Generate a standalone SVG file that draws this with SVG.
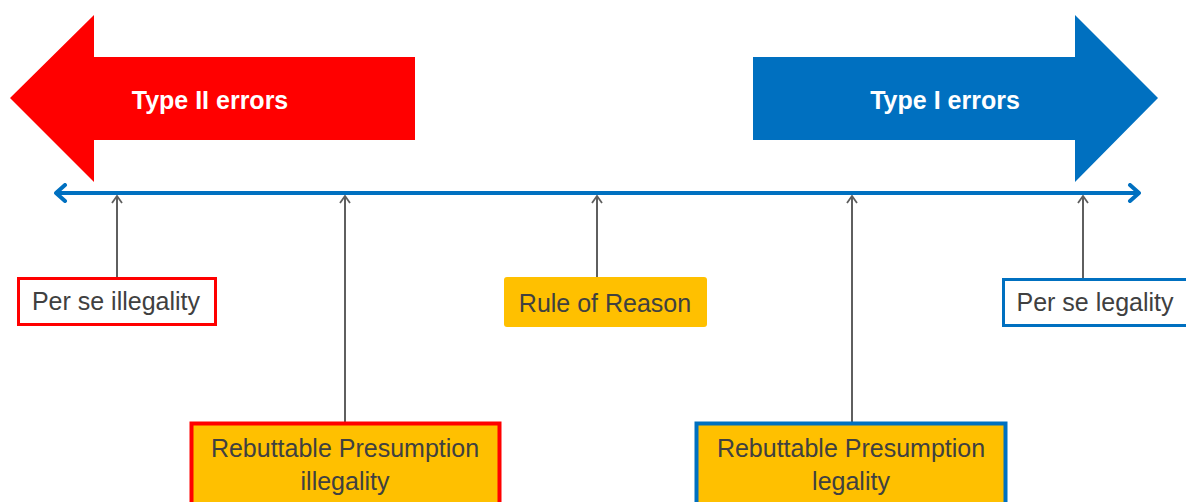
<svg xmlns="http://www.w3.org/2000/svg" width="1186" height="502" viewBox="0 0 1186 502">
<style>
.lbl{font-family:"Liberation Sans",Arial,sans-serif;font-size:25px;fill:#404040}
.big{font-family:"Liberation Sans",Arial,sans-serif;font-size:25px;font-weight:bold;fill:#ffffff}
.ptr{stroke:#5f5f5f;stroke-width:2;fill:none}
.gold{fill:#FFC000}
</style>
<defs>
<marker id="up" viewBox="0 0 12 12" refX="11" refY="6" markerWidth="12" markerHeight="12" markerUnits="userSpaceOnUse" orient="auto">
<path d="M4,1 L11,6 L4,11" fill="none" stroke="#5f5f5f" stroke-width="1.8"/>
</marker>
<marker id="tl" viewBox="0 0 20 20" refX="18" refY="10" markerWidth="20" markerHeight="20" markerUnits="userSpaceOnUse" orient="auto-start-reverse">
<path d="M9,2 L18,10 L9,18" fill="none" stroke="#0070C0" stroke-width="4" stroke-linecap="round" stroke-linejoin="round"/>
</marker>
</defs>
<g id="type2">
<polygon points="10,98 94,15 94,57 415,57 415,140 94,140 94,182" fill="#FF0000"/>
<text class="big" x="210" y="109" text-anchor="middle">Type II errors</text>
</g>
<g id="type1">
<polygon points="753,57 1075,57 1075,15 1158,98 1075,182 1075,140 753,140" fill="#0070C0"/>
<text class="big" x="945" y="109" text-anchor="middle">Type I errors</text>
</g>
<g id="connectors">
<line x1="56" y1="193" x2="1139" y2="193" stroke="#0070C0" stroke-width="4" marker-start="url(#tl)" marker-end="url(#tl)"/>
<line class="ptr" x1="117" y1="277" x2="117" y2="196" marker-end="url(#up)"/>
<line class="ptr" x1="345" y1="422" x2="345" y2="196" marker-end="url(#up)"/>
<line class="ptr" x1="597" y1="277" x2="597" y2="196" marker-end="url(#up)"/>
<line class="ptr" x1="852" y1="422" x2="852" y2="196" marker-end="url(#up)"/>
<line class="ptr" x1="1083" y1="278" x2="1083" y2="196" marker-end="url(#up)"/>
</g>
<g id="perse-illegality">
<rect x="18.5" y="278.5" width="197" height="46" fill="#ffffff" stroke="#FF0000" stroke-width="3"/>
<text class="lbl" x="116" y="310" text-anchor="middle">Per se illegality</text>
</g>
<g id="rule-of-reason">
<rect class="gold" x="504" y="277" width="203" height="50" rx="3"/>
<text class="lbl" x="605" y="312" text-anchor="middle">Rule of Reason</text>
</g>
<g id="perse-legality">
<rect x="1003.5" y="279.5" width="186" height="46" fill="#ffffff" stroke="#0070C0" stroke-width="3"/>
<text class="lbl" x="1095" y="311" text-anchor="middle">Per se legality</text>
</g>
<g id="rebuttable-illegality">
<rect class="gold" x="191.5" y="423.5" width="308" height="90" stroke="#FF0000" stroke-width="4"/>
<text class="lbl" x="345" y="457" text-anchor="middle">Rebuttable Presumption</text>
<text class="lbl" x="345" y="490" text-anchor="middle">illegality</text>
</g>
<g id="rebuttable-legality">
<rect class="gold" x="696.5" y="423.5" width="309" height="90" stroke="#0070C0" stroke-width="4"/>
<text class="lbl" x="851" y="457" text-anchor="middle">Rebuttable Presumption</text>
<text class="lbl" x="851" y="490" text-anchor="middle">legality</text>
</g>
</svg>
